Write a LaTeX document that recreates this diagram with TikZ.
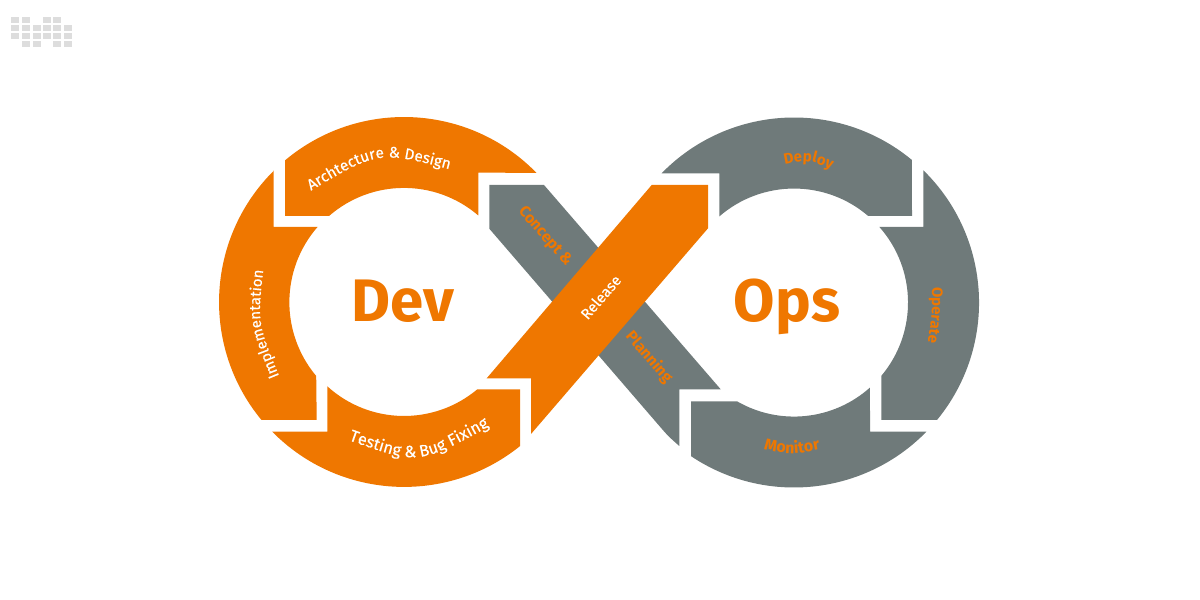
\documentclass[tikz,border=0pt]{standalone}
\usepackage{fontspec}
\setmainfont{Fira Sans}
\newfontfamily\whitefont[FakeBold=0.35]{Fira Sans}
\usetikzlibrary{decorations.text}
\definecolor{devorange}{HTML}{EF7700}
\definecolor{opsgrey}{HTML}{6F7A7A}
\definecolor{logogrey}{HTML}{DDDDDD}
\newcommand{\whitelabel}[1]{\whitefont\fontsize{#1}{18}\selectfont\color{white}}
\newcommand{\orangelabel}[1]{\fontsize{#1}{18}\selectfont\bfseries\color{devorange}}
\tikzset{
  devseg/.style={fill=devorange},
  opsseg/.style={fill=opsgrey},
  logocell/.style={fill=logogrey},
  arclabel/.style={decorate,decoration={text along path,text align=center,text={#1}}},
  straightwhite/.style={text=white,font=\whitefont\fontsize{15}{18}\selectfont},
  straightorange/.style={text=devorange,font=\fontsize{15.6}{18}\selectfont\bfseries},
  biglabel/.style={text=devorange,font=\fontsize{60}{70}\selectfont\bfseries,anchor=base}
}
\begin{document}
\begin{tikzpicture}[x=1pt,y=1pt]
\useasboundingbox (0,0) rectangle (1200,600);
% logo
\fill [logocell] (11,576.5) rectangle (19,582.5);
\fill [logocell] (22,576.5) rectangle (30,582.5);
\fill [logocell] (43,576.5) rectangle (51,582.5);
\fill [logocell] (53,576.5) rectangle (61,582.5);
\fill [logocell] (11,568.5) rectangle (19,574.5);
\fill [logocell] (22,568.5) rectangle (30,574.5);
\fill [logocell] (33,568.5) rectangle (41,574.5);
\fill [logocell] (43,568.5) rectangle (51,574.5);
\fill [logocell] (53,568.5) rectangle (61,574.5);
\fill [logocell] (64,568.5) rectangle (72,574.5);
\fill [logocell] (11,560.5) rectangle (19,566.5);
\fill [logocell] (22,560.5) rectangle (30,566.5);
\fill [logocell] (33,560.5) rectangle (41,566.5);
\fill [logocell] (43,560.5) rectangle (51,566.5);
\fill [logocell] (53,560.5) rectangle (61,566.5);
\fill [logocell] (64,560.5) rectangle (72,566.5);
\fill [logocell] (22,552.5) rectangle (30,558.5);
\fill [logocell] (33,552.5) rectangle (41,558.5);
\fill [logocell] (53,552.5) rectangle (61,558.5);
\fill [logocell] (64,552.5) rectangle (72,558.5);
% left loop
\fill [devseg] (285.1,439.7) arc [start angle=130,end angle=44.3,radius=185pt] -- (478.3,427.3) -- (478.3,384.5) arc [start angle=49.3,end angle=131,radius=114pt] -- (285.1,384) -- cycle;
\fill [devseg] (273.5,429.5) -- (273.5,373) -- (317.5,373) arc [start angle=139,end angle=220,radius=114.7pt] -- (316.7,180) -- (261.5,180) arc [start angle=219.6,end angle=134.7,radius=185pt] -- cycle;
\fill [devseg] (327.3,213.7) arc [start angle=227.7,end angle=310,radius=114pt] -- (520,210.7) -- (520,153.9) arc [start angle=308.8,end angle=224.5,radius=185pt] -- (327.3,168.3) -- cycle;
% right loop
\fill [opsseg] (661.6,426.7) arc [start angle=135.7,end angle=50.4,radius=185pt] -- (912,384) -- (868.2,384) arc [start angle=49.4,end angle=130.9,radius=114pt] -- (719.3,426.7) -- cycle;
\fill [opsseg] (937,180) arc [start angle=-39.4,end angle=45.65,radius=185pt] -- (923.3,373) -- (879.4,373) arc [start angle=41.5,end angle=-40,radius=114pt] -- (881.3,180) -- cycle;
\fill [opsseg] (691,198.7) -- (737,198.7) arc [start angle=240,end angle=311.8,radius=114pt] -- (870,168.3) -- (926.4,168.3) arc [start angle=315.7,end angle=236.2,radius=185pt] -- cycle;
% crossing bands
\fill [opsseg] (489.3,415) -- (544,415) -- (720.7,210.7) -- (679.3,210.7) -- (679.3,154) .. controls (668,164) .. (660,173.3) -- (489.3,371.3) -- cycle;
\fill [devseg] (651.7,415) -- (708,415) -- (708,371.7) -- (531,166) -- (531,221.7) -- (486.7,221.7) -- cycle;
% labels
\path [arclabel={|\whitelabel{15.4}|Archtecture {\&} Design}] (306,406.3) .. controls (378,449.7) .. (455,429.3);
\path [arclabel={|\whitelabel{15}|Implementation}] (280,222) .. controls (257.3,277) .. (263.5,332);
\path [arclabel={|\whitelabel{16.4}|Testing {\&} Bug Fixing}] (348,160) .. controls (418.5,135) .. (490,174);
\path [arclabel={|\orangelabel{15}|Deploy}] (782,435) .. controls (808,440.5) .. (834,430);
\path [arclabel={|\orangelabel{15}|Operate}] (932,314) .. controls (932.25,285) .. (927.5,256);
\path [arclabel={|\orangelabel{16}|Monitor}] (762,151) .. controls (792,144.6) .. (822,151);
\node [straightorange,rotate=-49] (concept) at (545,363.3) {Concept \&};
\node [straightorange,rotate=-49] (planning) at (649,242.7) {Planning};
\node [straightwhite,rotate=49] (release) at (600.7,303) {Release};
\node [biglabel] (dev) at (402.5,278.5) {Dev};
\node [biglabel] (ops) at (787,278) {Ops};
\end{tikzpicture}
\end{document}
